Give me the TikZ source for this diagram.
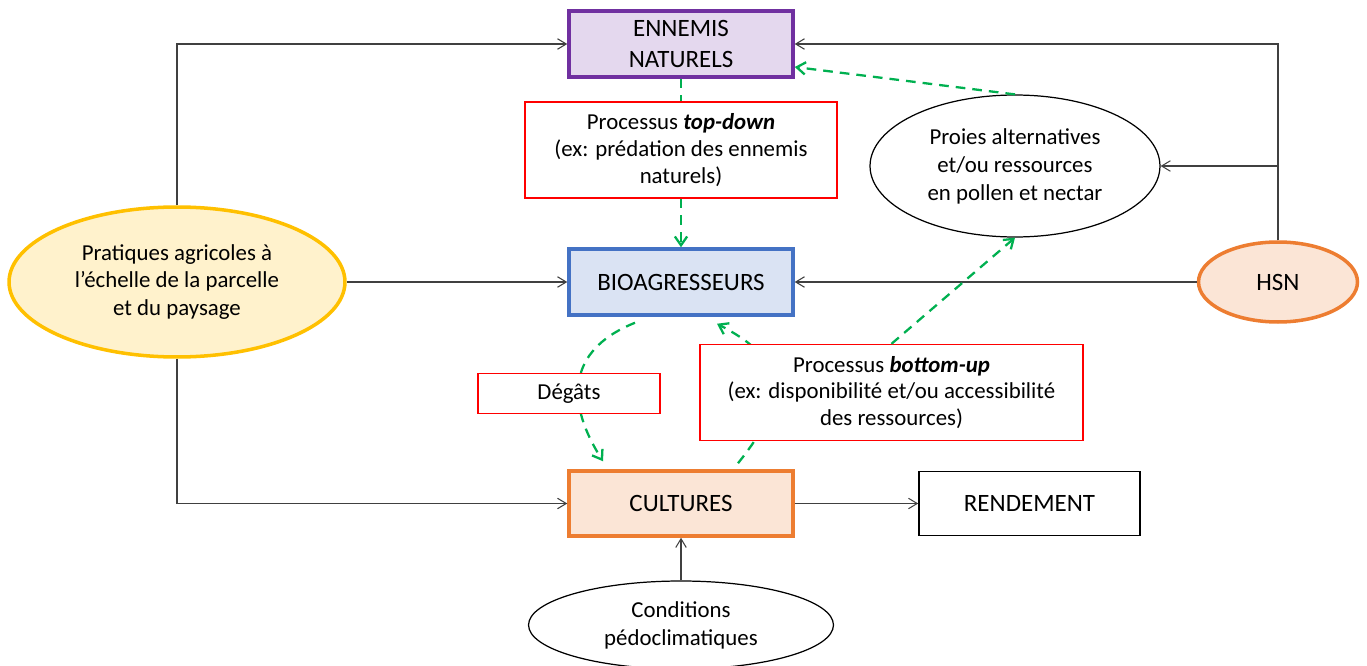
\documentclass[tikz,border=0pt]{standalone}
\usepackage{fontspec}
\setmainfont{Carlito}
\usetikzlibrary{arrows.meta,shapes.geometric,backgrounds}

\definecolor{enBord}{HTML}{7030A0}
\definecolor{enFond}{HTML}{E4D8EE}
\definecolor{bioBord}{HTML}{4472C4}
\definecolor{bioFond}{HTML}{DAE3F3}
\definecolor{culBord}{HTML}{ED7D31}
\definecolor{culFond}{HTML}{FBE5D6}
\definecolor{praBord}{HTML}{FFC000}
\definecolor{praFond}{HTML}{FFF2CC}
\definecolor{rouge}{HTML}{FF0000}
\definecolor{vert}{HTML}{00B050}
\definecolor{trait}{HTML}{404040}

\tikzstyle{titre} = [draw, line width=2pt, minimum width=4.48cm, minimum height=1.32cm, align=center, font=\fontsize{14.2}{17.6}\selectfont]
\tikzstyle{cadre} = [draw=rouge, line width=0.8pt, fill=white, align=center, font=\fontsize{13}{15.3}\selectfont]
\tikzstyle{bulle} = [ellipse, draw, inner sep=0pt, align=center, font=\fontsize{13}{15.9}\selectfont]
\tikzstyle{lien} = [draw=trait, line width=0.6pt, -{Straight Barb[length=5pt,width=6pt]}]
\tikzstyle{effet} = [draw=vert, line width=1.3pt, dash pattern=on 5.5pt off 4pt, -{Straight Barb[length=5pt,width=7pt]}]

\begin{document}
\begin{tikzpicture}[x=0.02cm, y=-0.02cm]
	  \useasboundingbox (0,0) rectangle (1367,666);

	  \node (a) at (681,44) [titre, draw=enBord, fill=enFond] {ENNEMIS\\NATURELS};
	  \node (b) at (681,150) [cadre, minimum width=6.24cm, minimum height=1.92cm] {Processus \textbf{\textit{top-down}}\\(ex: prédation des ennemis\\naturels)};
	  \node (c) at (681,282) [titre, draw=bioBord, fill=bioFond] {BIOAGRESSEURS};
	  \node (d) at (177,282) [bulle, draw=praBord, fill=praFond, line width=2pt, minimum width=6.72cm, minimum height=3cm] {Pratiques agricoles à\\l’échelle de la parcelle\\et du paysage};
	  \node (e) at (1278,282) [bulle, draw=culBord, fill=culFond, line width=2pt, minimum width=3.18cm, minimum height=1.6cm, font=\fontsize{14.2}{17.6}\selectfont] {HSN};
	  \node (f) at (1015,166) [bulle, line width=0.7pt, minimum width=5.8cm, minimum height=2.84cm] {Proies alternatives\\et/ou ressources\\en pollen et nectar};
	  \node (g) at (569,393.5) [cadre, minimum width=3.64cm, minimum height=0.8cm] {Dégâts};
	  \node (h) at (891.5,392.5) [cadre, minimum width=7.66cm, minimum height=1.92cm] {Processus \textbf{\textit{bottom-up}}\\(ex: disponibilité et/ou accessibilité\\des ressources)};
	  \node (i) at (681,503.5) [titre, draw=culBord, fill=culFond, minimum height=1.3cm] {CULTURES};
	  \node (j) at (1029.5,503.5) [titre, line width=0.9pt, minimum width=4.42cm, minimum height=1.28cm] {RENDEMENT};
	  \node (k) at (681,625) [bulle, line width=0.7pt, minimum width=6.1cm, minimum height=1.76cm] {Conditions\\pédoclimatiques};

	  \draw [lien] (d.north) |- (a.west);
	  \draw [lien] (d.east) -- (c.west);
	  \draw [lien] (d.south) |- (i.west);
	  \draw [lien] (e.north) |- (a.east);
	  \draw [lien] (e.north) |- (f.east);
	  \draw [lien] (e.west) -- (c.east);
	  \draw [lien] (i) -- (j);
	  \draw [lien] (k) -- (i);

	  \draw [effet, -] (a) -- (b);
	  \draw [effet] (b) -- (c);
	  \draw [effet] (f.north) -- ([shift={(0,23)}]a.east);
	  \draw [effet] (h.north) -- (f.south);
	  \begin{scope}[on background layer]
	  \draw [effet] ([shift={(-46,6)}]c.south) .. controls +(-60,24) and +(-43,-68) .. ([shift={(-78,-8)}]i.north);
	  \draw [effet] ([shift={(57,-6)}]i.north) .. controls +(52,-65) and +(73,38) .. ([shift={(36,7)}]c.south);
	  \end{scope}
\end{tikzpicture}
\end{document}
